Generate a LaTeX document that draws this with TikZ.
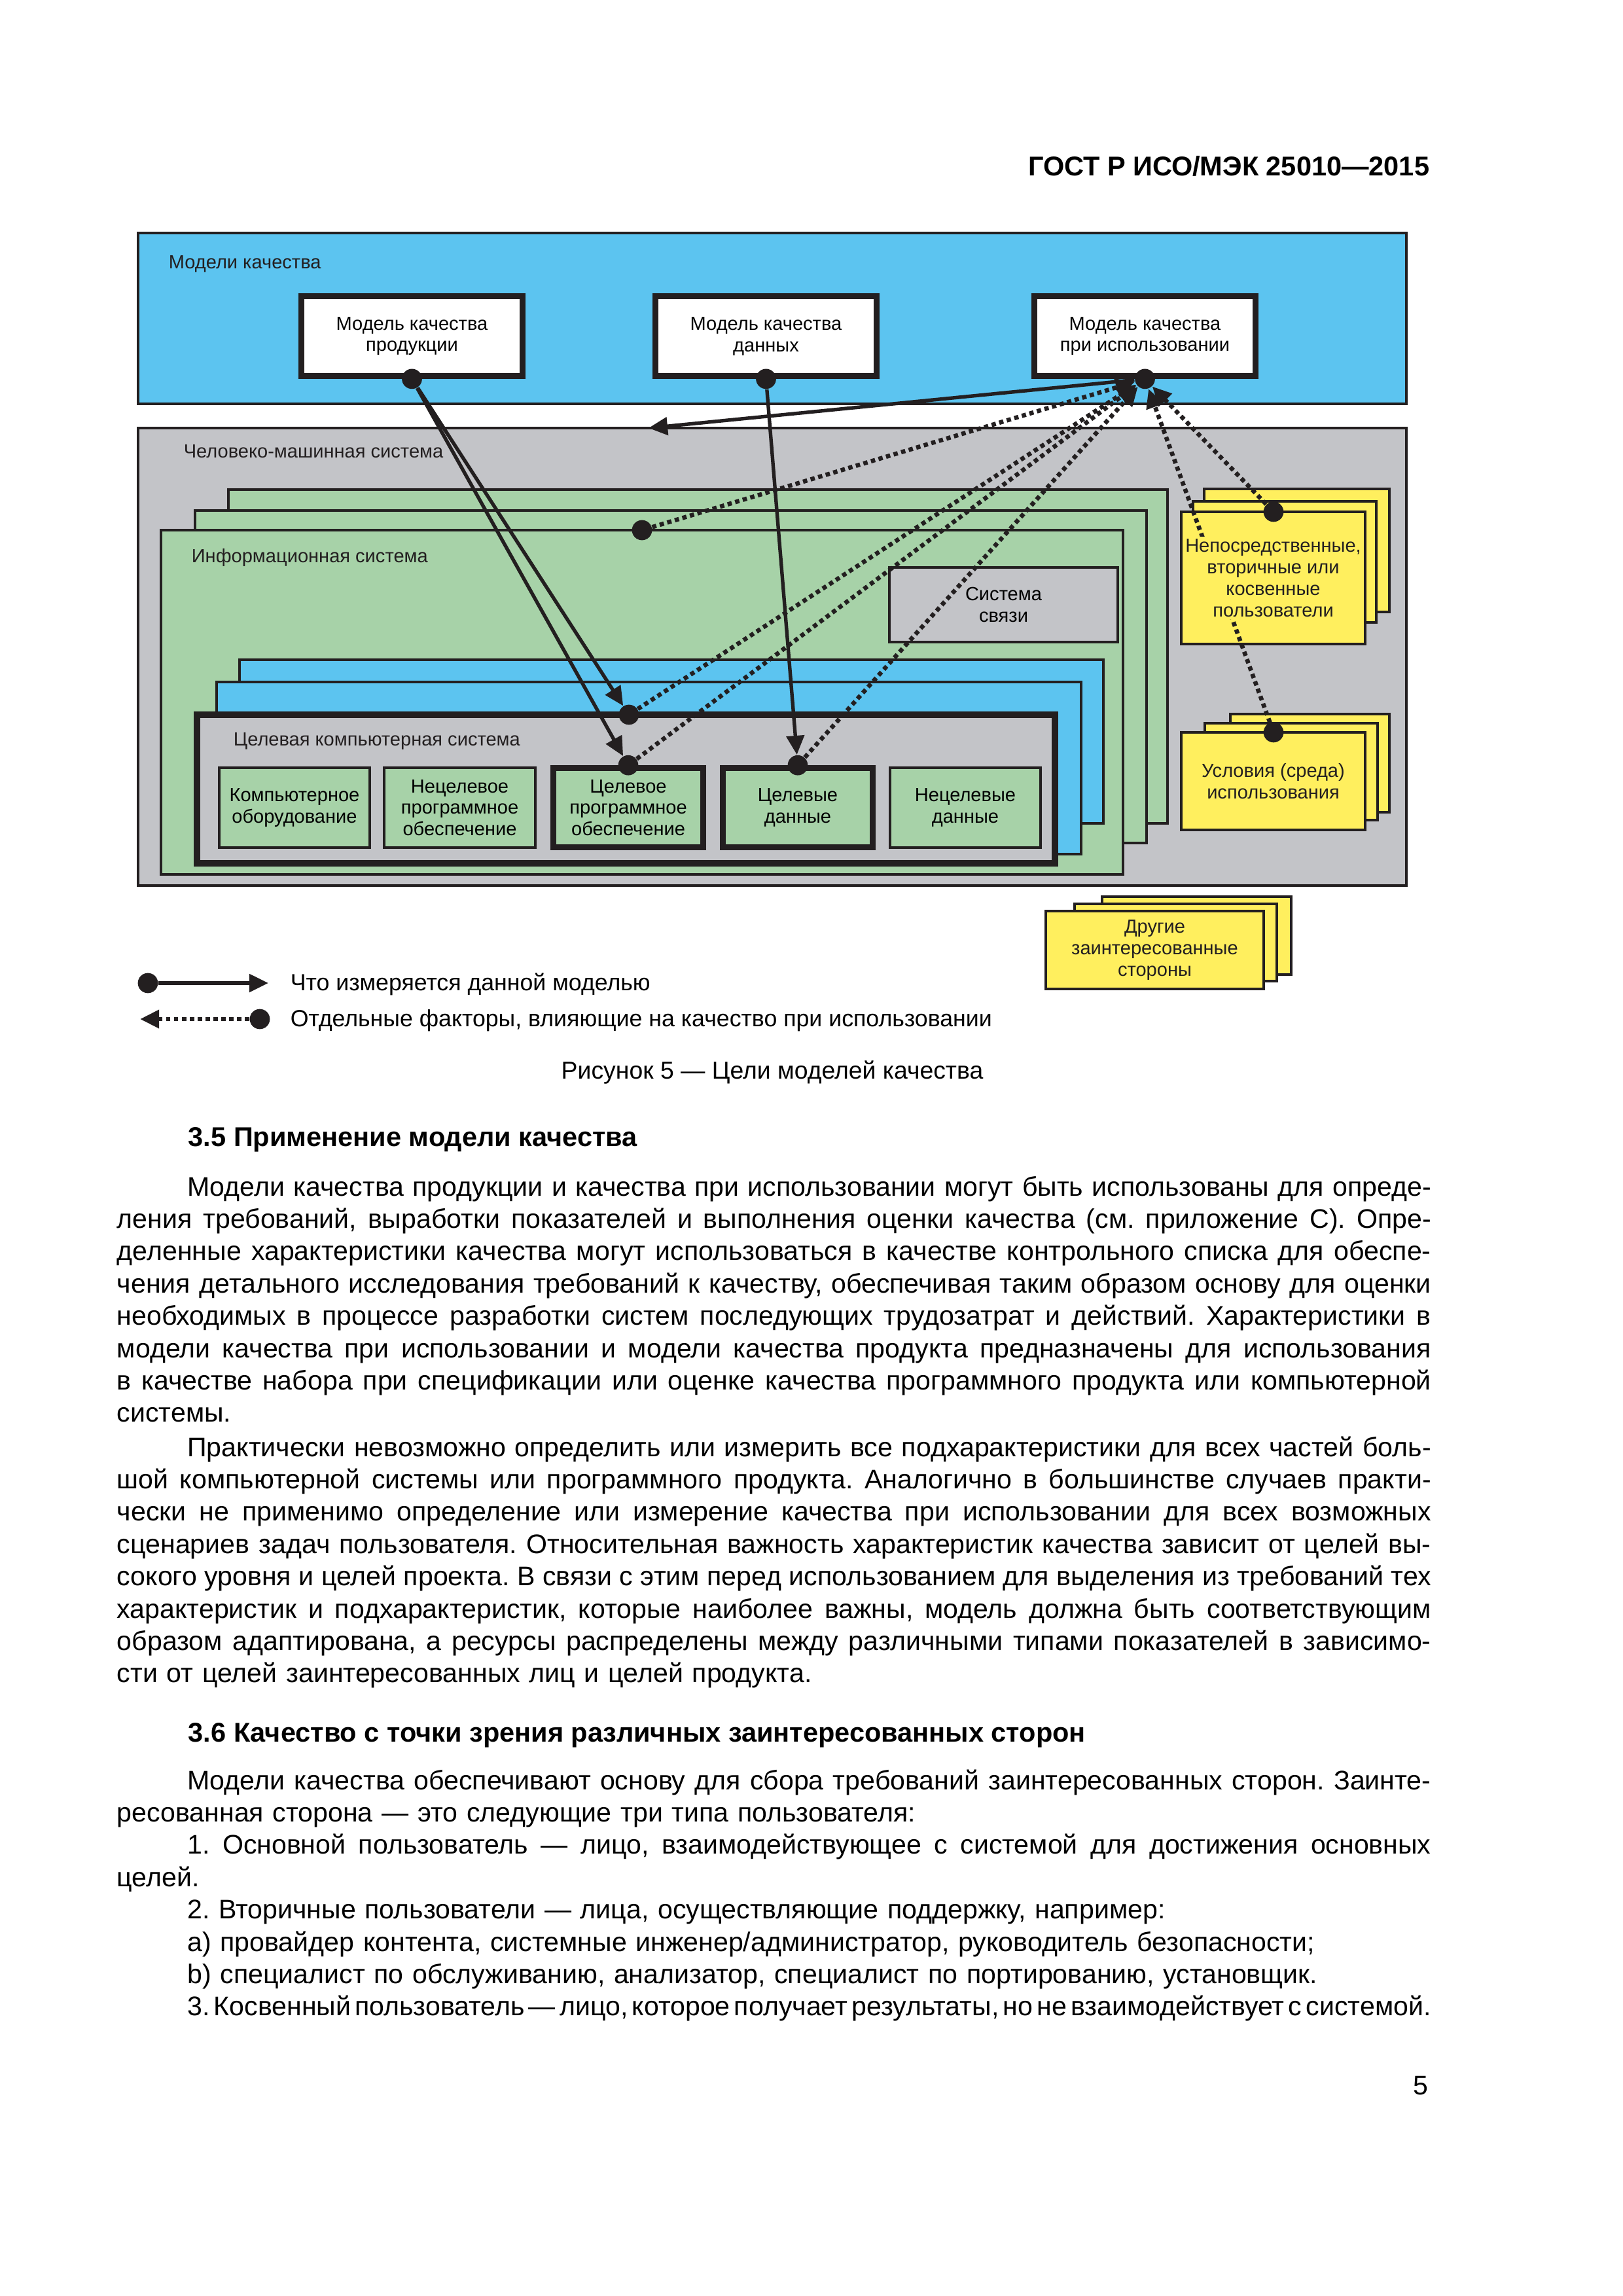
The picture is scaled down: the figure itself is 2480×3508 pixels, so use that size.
\documentclass[tikz,border=0pt]{standalone}
\usepackage{fontspec}
\setmainfont{Liberation Sans}
\usetikzlibrary{arrows.meta}
\frenchspacing

\definecolor{skyc}{RGB}{92,196,240}
\definecolor{greenc}{RGB}{167,210,168}
\definecolor{grayc}{RGB}{195,196,200}
\definecolor{yellowc}{RGB}{255,239,94}
\definecolor{inkc}{RGB}{35,31,32}

% one justified line of body text
\newcommand\jl[1]{\makebox[170mm][s]{\spaceskip=0.278em plus 0.6em minus 0.2em\relax #1}\\}
\newcommand\ind{\hspace*{9.1mm}}

\begin{document}
\begin{tikzpicture}[x=0.084677mm,y=-0.084677mm,
  lbl/.style={font=\fontsize{7}{8}\selectfont,inner sep=0pt,text=inkc},
  modelbox/.style={draw=inkc,line width=2.2pt,fill=white,minimum width=28.6mm,minimum height=10.3mm,align=center,font=\fontsize{7}{7.9}\selectfont},
  partbox/.style={draw=inkc,line width=1pt,fill=greenc,minimum width=19.5mm,minimum height=10.3mm,align=center,font=\fontsize{7}{7.9}\selectfont},
  keypart/.style={partbox,line width=2.2pt,minimum width=19.4mm,minimum height=10.2mm},
  dotnode/.style={circle,fill=inkc,inner sep=0pt,minimum size=2.6mm},
  meas/.style={draw=inkc,line width=1.3pt,-{Triangle[length=7pt,width=6.5pt]}},
  factor/.style={meas,line width=1.6pt,dash pattern=on 1.6pt off 1.3pt},
  card/.style={draw=inkc,line width=1pt},
  stacktext/.style={lbl,fill=yellowc,align=center,inner sep=1pt,font=\fontsize{7}{7.9}\selectfont},
  legtext/.style={font=\fontsize{8.6}{10.5}\selectfont,inner sep=0pt},
  body/.style={font=\fontsize{9.9}{11.9}\selectfont,inner sep=0pt,text width=170mm,align=left},
  head/.style={font=\bfseries\fontsize{10}{12}\selectfont,inner sep=0pt}]
\useasboundingbox (0,0) rectangle (2480,3508);
\fill[white] (0,0) rectangle (2480,3508);

\node[anchor=base east,font=\bfseries\fontsize{10}{12}\selectfont,inner sep=0pt] (gost) at (2185,268) {ГОСТ Р ИСО/МЭК 25010—2015};

% models
\draw[card,fill=skyc] (211,356) rectangle (2149,617);
\node[lbl,anchor=base west] (tmod) at (257,410) {Модели качества};
\node[modelbox] (mprod) at (629.5,513.5) {Модель качества\\продукции};
\node[modelbox] (mdata) at (1170.5,513.5) {Модель качества\\данных};
\node[modelbox] (muse) at (1749.5,513.5) {Модель качества\\при использовании};

% human-machine system
\draw[card,fill=grayc] (211,654) rectangle (2149,1353);
\node[lbl,anchor=base west] (thms) at (280,699) {Человеко-машинная система};
\draw[card,fill=greenc] (349,748) rectangle (1784,1258);
\draw[card,fill=greenc] (298,780) rectangle (1752,1288);
\draw[card,fill=greenc] (246,810) rectangle (1716,1336);
\node[lbl,anchor=base west] (tis) at (292,859) {Информационная система};
\node[partbox,fill=grayc,minimum width=29.6mm,minimum height=9.7mm] (comm) at (1533.5,924) {Система\\связи};
\draw[card,fill=skyc] (366,1008) rectangle (1686,1258);
\draw[card,fill=skyc] (331,1042) rectangle (1652,1305);
\draw[draw=inkc,line width=2.4pt,fill=grayc] (301,1092) rectangle (1612,1319);
\node[lbl,anchor=base west] (tcs) at (356,1139) {Целевая компьютерная система};
\node[partbox] (hw) at (450,1234) {Компьютерное\\оборудование};
\node[partbox] (osw) at (702.5,1234) {Нецелевое\\программное\\обеспечение};
\node[keypart] (tsw) at (960,1234) {Целевое\\программное\\обеспечение};
\node[keypart] (tdat) at (1219,1234) {Целевые\\данные};
\node[partbox] (odat) at (1475,1234) {Нецелевые\\данные};

% stakeholders
\draw[card,fill=yellowc] (1840,747) rectangle (2123,935);
\draw[card,fill=yellowc] (1823,766) rectangle (2103,951);
\draw[card,fill=yellowc] (1805,782) rectangle (2086,984);
\draw[card,fill=yellowc] (1880,1091) rectangle (2123,1241);
\draw[card,fill=yellowc] (1841,1105) rectangle (2105,1253);
\draw[card,fill=yellowc] (1805,1119) rectangle (2086,1268);
\draw[card,fill=yellowc] (1684,1370) rectangle (1973,1489);
\draw[card,fill=yellowc] (1642,1381) rectangle (1951,1499);
\draw[card,fill=yellowc] (1598,1392) rectangle (1931,1511);

% dots
\node[dotnode] (dprod) at (mprod.south) {};
\node[dotnode] (ddata) at (mdata.south) {};
\node[dotnode] (duse) at (muse.south) {};
\node[dotnode] (dis) at (981,810) {};
\node[dotnode] (dtcs) at (961,1092) {};
\node[dotnode] (dtsw) at (tsw.north) {};
\node[dotnode] (dtdat) at (tdat.north) {};
\node[dotnode] (dusr) at (1946,782) {};
\node[dotnode] (denv) at (1946,1119) {};
\coordinate (hms) at (991,654);

% what is measured
\draw[meas] (dprod) -- (dtcs);
\draw[meas] (dprod) -- (dtsw);
\draw[meas] (ddata) -- (dtdat);
\draw[meas] (duse) -- (hms);
% factors
\draw[factor] (dis) -- (duse);
\draw[factor] (dtcs) -- (duse);
\draw[factor] (dtsw) -- (duse);
\draw[factor] (dtdat) -- (duse);
\draw[factor] (dusr) -- (duse);
\draw[factor] (denv) -- (duse);

\node[stacktext] (usr) at (1945.5,883) {Непосредственные,\\вторичные или\\косвенные\\пользователи};
\node[stacktext] (env) at (1945.5,1193.5) {Условия (среда)\\использования};
\node[stacktext] (oth) at (1764.5,1451.5) {Другие\\заинтересованные\\стороны};

% key
\node[dotnode] (k1a) at (226,1502) {};
\coordinate (k1b) at (410,1502);
\draw[meas] (k1a) -- (k1b);
\node[dotnode] (k2a) at (397,1557) {};
\coordinate (k2b) at (214,1557);
\draw[factor] (k2a) -- (k2b);
\node[legtext,anchor=base west] (k1t) at (443,1513) {Что измеряется данной моделью};
\node[legtext,anchor=base west] (k2t) at (443,1568) {Отдельные факторы, влияющие на качество при использовании};
\node[legtext,font=\fontsize{9}{10.5}\selectfont,anchor=base] (cap) at (1180,1648) {Рисунок 5 — Цели моделей качества};

% text
\node[head,anchor=base west] (h35) at (287,1751) {3.5 Применение модели качества};
\node[body,anchor=base west] (p1) at (178,1827) {%
\jl{\ind Модели качества продукции и качества при использовании могут быть использованы для опреде-}%
\jl{ления требований, выработки показателей и выполнения оценки качества (см. приложение С). Опре-}%
\jl{деленные характеристики качества могут использоваться в качестве контрольного списка для обеспе-}%
\jl{чения детального исследования требований к качеству, обеспечивая таким образом основу для оценки}%
\jl{необходимых в процессе разработки систем последующих трудозатрат и действий. Характеристики в}%
\jl{модели качества при использовании и модели качества продукта предназначены для использования}%
\jl{в качестве набора при спецификации или оценке качества программного продукта или компьютерной}%
системы.};
\node[body,anchor=base west] (p2) at (178,2225) {%
\jl{\ind Практически невозможно определить или измерить все подхарактеристики для всех частей боль-}%
\jl{шой компьютерной системы или программного продукта. Аналогично в большинстве случаев практи-}%
\jl{чески не применимо определение или измерение качества при использовании для всех возможных}%
\jl{сценариев задач пользователя. Относительная важность характеристик качества зависит от целей вы-}%
\jl{сокого уровня и целей проекта. В связи с этим перед использованием для выделения из требований тех}%
\jl{характеристик и подхарактеристик, которые наиболее важны, модель должна быть соответствующим}%
\jl{образом адаптирована, а ресурсы распределены между различными типами показателей в зависимо-}%
сти от целей заинтересованных лиц и целей продукта.};
\node[head,anchor=base west] (h36) at (287,2661) {3.6 Качество с точки зрения различных заинтересованных сторон};
\node[body,anchor=base west] (p3) at (178,2734) {%
\jl{\ind Модели качества обеспечивают основу для сбора требований заинтересованных сторон. Заинте-}%
ресованная сторона — это следующие три типа пользователя:\\
\jl{\ind 1. Основной пользователь — лицо, взаимодействующее с системой для достижения основных}%
целей.\\
\ind 2. Вторичные пользователи — лица, осуществляющие поддержку, например:\\
\ind a) провайдер контента, системные инженер/администратор, руководитель безопасности;\\
\ind b) специалист по обслуживанию, анализатор, специалист по портированию, установщик.\\
\makebox[170mm][s]{\spaceskip=0.278em plus 0.6em minus 0.24em\relax\ind 3. Косвенный пользователь — лицо, которое получает результаты, но не взаимодействует с системой.}};
\node[body,text width=,anchor=base east] (pg) at (2183,3200) {5};
\end{tikzpicture}
\end{document}
